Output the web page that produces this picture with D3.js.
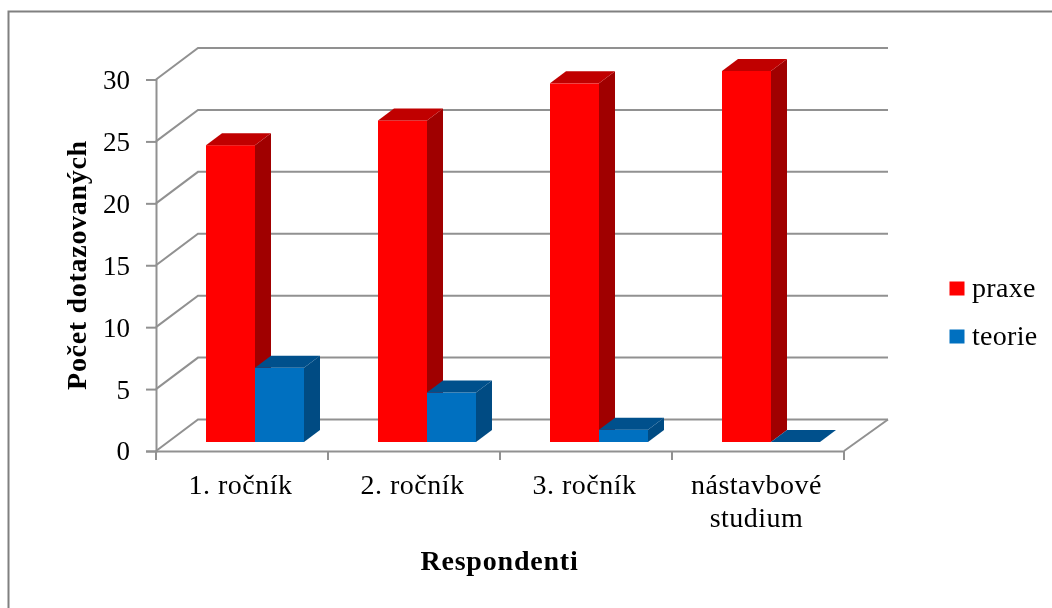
<!DOCTYPE html>
<html><head><meta charset="utf-8">
<script src="https://cdnjs.cloudflare.com/ajax/libs/d3/7.8.5/d3.min.js"></script>
<style>
html,body{margin:0;padding:0;background:#fff}
svg{display:block;filter:blur(.5px)}
text{font-family:"Liberation Serif",serif;fill:#000}
</style></head><body><svg id="c" width="1052" height="608"></svg>
<script>
const categories=[["1. ročník"],["2. ročník"],["3. ročník"],["nástavbové","studium"]];
const catKeys=["a","b","c","d"];
const praxe=[24,26,29,30];
const teorie=[6,4,1,0];
const yTicks=[0,5,10,15,20,25,30];
const seriesNames=["praxe","teorie"];
const faceColors=["#FF0000","#0070C0"];
const topColors=["#C00000","#00508C"];
const sideColors=["#A00000","#004B83"];
const gridColor="#919191";

const svg=d3.select("#c");
const x0=156,x1=844,yB=451,yT=79.5,wallDx=42,wallDy=-31.5;
const barBase=442,barDx=16,barDy=-12,barW=49,barOff=50;
const x=d3.scaleBand().domain(catKeys).range([x0,x1]);
const y=d3.scaleLinear().domain([0,30]).range([yB,yT]);
const h=d3.scaleLinear().domain([0,30]).range([0,yB-yT-0.5]);

svg.append("path").attr("d","M8.5,608V11.5H1052").attr("fill","none").attr("stroke","#808080").attr("stroke-width",2);

const g=svg.append("g").attr("fill","none").attr("stroke",gridColor).attr("stroke-width",2);
yTicks.forEach(t=>{
  const p=d3.path();
  p.moveTo(x0,y(t));p.lineTo(x0+wallDx,y(t)+wallDy);p.lineTo(x1+wallDx+2,y(t)+wallDy);
  g.append("path").attr("d",p.toString());
});
const fl=d3.path();
fl.moveTo(x1,yB);fl.lineTo(x1+wallDx+2,yB+wallDy);
g.append("path").attr("d",fl.toString());

const yAxis=svg.append("g").attr("transform",`translate(${x0},0)`).call(d3.axisLeft(y).tickValues(yTicks).tickSize(10).tickPadding(16));
const xAxis=svg.append("g").attr("transform",`translate(0,${yB})`).call(d3.axisBottom(x).tickValues([]).tickSize(0));
[...catKeys.map(k=>x(k)),x1].forEach(v=>xAxis.append("line").attr("x1",v).attr("x2",v).attr("y1",0).attr("y2",9).attr("stroke",gridColor).attr("stroke-width",2));
svg.selectAll(".domain").attr("stroke",gridColor).attr("stroke-width",2);
yAxis.selectAll("line").attr("stroke",gridColor).attr("stroke-width",2);
yAxis.selectAll("text").attr("font-size",27).attr("dy","0.33em").style("font-family",'"Liberation Serif",serif').style("fill","#000");

function bar(cat,val,s){
  const l=x(cat)+barOff+s*barW,r=l+barW,t=barBase-h(val),b=barBase;
  const gg=svg.append("g");
  if(val>0){
    gg.append("path").attr("fill",sideColors[s]).attr("d",`M${r},${t}L${r+barDx},${t+barDy}V${b+barDy}L${r},${b}Z`);
    gg.append("rect").attr("x",l).attr("y",t).attr("width",barW).attr("height",b-t).attr("fill",faceColors[s]);
  }
  gg.append("path").attr("fill",topColors[s]).attr("d",`M${l},${t}L${l+barDx},${t+barDy}H${r+barDx}L${r},${t}Z`);
}
catKeys.forEach((k,i)=>{bar(k,praxe[i],0);bar(k,teorie[i],1);});

catKeys.forEach((k,i)=>{
  categories[i].forEach((ln,j)=>{
    svg.append("text").attr("x",x(k)+x.bandwidth()/2-1.5).attr("y",494+j*33).attr("text-anchor","middle").attr("font-size",28).attr("letter-spacing",0.5).text(ln);
  });
});
svg.append("text").attr("x",499.5).attr("y",570).attr("text-anchor","middle").attr("font-size",28).attr("font-weight","bold").attr("letter-spacing",0.8).text("Respondenti");
svg.append("text").attr("transform","translate(86,265) rotate(-90)").attr("text-anchor","middle").attr("font-size",28).attr("font-weight","bold").attr("letter-spacing",0.7).text("Počet dotazovaných");
seriesNames.forEach((n,i)=>{
  const ly=288.5+i*48;
  svg.append("rect").attr("x",949.5).attr("y",ly-7).attr("width",15).attr("height",14).attr("fill",faceColors[i]);
  svg.append("text").attr("x",972).attr("y",ly+8.5).attr("font-size",28).attr("letter-spacing",0.3).text(n);
});
</script></body></html>
